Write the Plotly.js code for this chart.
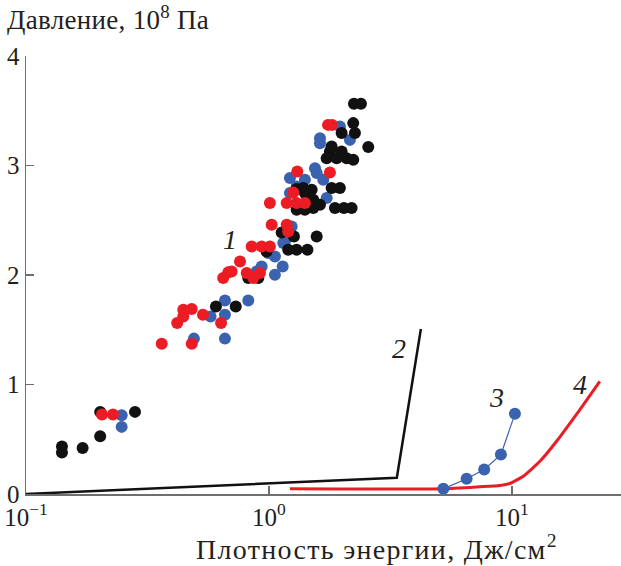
<!DOCTYPE html>
<html>
<head>
<meta charset="utf-8">
<script src="https://cdn.plot.ly/plotly-3.0.1.min.js"></script>
<style>
  html, body { margin: 0; padding: 0; background: #fff; }
  #chart { width: 621px; height: 566px; }
</style>
</head>
<body>
<div id="chart"></div>
<script>
// Experimental points, series 1 (energy density J/cm^2, pressure 10^8 Pa)
const blackX = [0.1406, 0.1406, 0.171, 0.202, 0.202, 0.281,
  0.605, 0.730, 0.822, 0.904, 0.978, 1.20, 1.30, 1.44,
  1.128, 1.267, 1.572, 1.300, 1.406, 1.300, 1.406, 1.342, 1.522, 1.622, 1.522,
  1.384, 1.499, 1.811, 1.959, 1.869, 2.035, 2.189,
  1.811, 1.782, 1.991, 1.728, 1.899, 2.088, 2.223, 2.563,
  1.991, 2.259, 2.223, 2.238, 2.391];
const blackY = [0.433, 0.379, 0.42, 0.527, 0.75, 0.75,
  1.713, 1.713, 1.973, 1.973, 2.215, 2.231, 2.231, 2.231,
  2.389, 2.352, 2.352, 2.596, 2.596, 2.785, 2.748, 2.611, 2.687, 2.641, 2.611,
  2.794, 2.778, 2.794, 2.794, 2.611, 2.611, 2.611,
  3.174, 3.128, 3.128, 3.067, 3.067, 3.067, 3.052, 3.168,
  3.296, 3.296, 3.387, 3.563, 3.563];

const redX = [0.2055, 0.228,
  0.362, 0.481, 0.419, 0.444, 0.481, 0.444, 0.535, 0.635,
  0.648, 0.680, 0.702, 0.760, 0.810, 0.862, 0.918,
  0.849, 0.933, 1.009, 1.026, 1.183, 1.200,
  1.009, 1.183, 1.300, 1.406, 1.259, 1.308, 1.782, 1.75, 1.82];
const redY = [0.725, 0.725,
  1.373, 1.373, 1.562, 1.683, 1.690, 1.622, 1.638, 1.562,
  1.973, 2.024, 2.033, 2.124, 2.018, 1.973, 2.018,
  2.261, 2.261, 2.261, 2.459, 2.459, 2.398,
  2.657, 2.657, 2.657, 2.657, 2.754, 2.945, 2.936, 3.371, 3.371];

const blueX = [0.2476, 0.2476,
  0.491, 0.659, 0.575, 0.659, 0.659, 0.822,
  0.890, 0.933, 1.058, 1.139, 0.993, 1.058, 1.145, 1.240, 1.164,
  1.220, 1.728, 1.547, 1.572, 1.220, 1.406, 1.673, 1.300,
  1.622, 1.622, 2.154, 1.959];
const blueY = [0.719, 0.613,
  1.419, 1.419, 1.622, 1.768, 1.638, 1.768,
  2.033, 2.078, 2.003, 2.078, 2.201, 2.170, 2.292, 2.443, 2.307,
  2.748, 2.703, 2.976, 2.931, 2.885, 2.870, 2.870, 2.808,
  3.250, 3.204, 3.234, 3.356];

// Curve 2
const curve2X = [0.1, 3.36, 4.22];
const curve2Y = [0.0, 0.148, 1.507];

// Curve 3
const curve3X = [5.22, 6.51, 7.69, 9.01, 10.29];
const curve3Y = [0.047, 0.139, 0.224, 0.360, 0.732];

// Curve 4
const curve4X = [1.22, 5.21, 7.385, 8.93, 9.81, 11.13, 13.04, 15.27, 19.05, 23.0];
const curve4Y = [0.047, 0.047, 0.066, 0.078, 0.096, 0.162, 0.299, 0.482, 0.771, 1.029];

// Curve numbers
const curveLabels = ['1', '2', '3', '4'];
const labelX = [0.691, 3.43, 8.68, 19.05];
const labelY = [2.322, 1.328, 0.88, 1.0];

const xTickVals = [0.1, 1, 10];
const xTickText = ['10<sup>\u22121</sup>', '10<sup>0</sup>', '10<sup>1</sup>'];
const yTickVals = [0, 1, 2, 3, 4];

const SERIF = 'Liberation Serif, Times New Roman, DejaVu Serif, serif';
const TEXT = '#231f20';
const AXIS = '#6d6e70';

const dots = (x, y, color) => ({
  x, y, type: 'scatter', mode: 'markers', cliponaxis: false,
  marker: { size: 12, color, line: { width: 0 } },
  hoverinfo: 'x+y'
});

const traces = [
  dots(blueX, blueY, '#3b62ae'),
  dots(blackX, blackY, '#111111'),
  dots(redX, redY, '#ec1c24'),
  { x: curve2X, y: curve2Y, type: 'scatter', mode: 'lines', cliponaxis: false,
    line: { color: '#111111', width: 2.5 } },
  { x: curve4X, y: curve4Y, type: 'scatter', mode: 'lines', cliponaxis: false,
    line: { color: '#ec1c24', width: 3, shape: 'spline', smoothing: 0.5 } },
  { x: curve3X, y: curve3Y, type: 'scatter', mode: 'lines+markers', cliponaxis: false,
    line: { color: '#3b62ae', width: 1.2 },
    marker: { size: 12, color: '#3b62ae', line: { width: 0 } } }
];

const annotations = curveLabels.map((t, i) => ({
  text: '<i>' + t + '</i>', x: Math.log10(labelX[i]), y: labelY[i],
  xref: 'x', yref: 'y', showarrow: false,
  font: { family: SERIF, size: 28, color: TEXT },
  xanchor: 'center', yanchor: 'middle'
}));

annotations.push({
  text: '<span style="letter-spacing:0.3px">Давление, 10<sup>8</sup> Па</span>',
  xref: 'paper', yref: 'paper',
  x: -0.036, y: 1.087, xanchor: 'left', yanchor: 'middle', showarrow: false,
  font: { family: SERIF, size: 27, color: TEXT }
});
annotations.push({
  text: '<span style="letter-spacing:1.3px">Плотность энергии, Дж/см<sup>2</sup></span>',
  xref: 'paper', yref: 'paper',
  x: 0.59, y: -0.122, xanchor: 'center', yanchor: 'middle', showarrow: false,
  font: { family: SERIF, size: 28, color: TEXT }
});

const layout = {
  width: 621, height: 566,
  margin: { l: 26, r: 0, t: 56, b: 72, pad: 0 },
  paper_bgcolor: '#fff', plot_bgcolor: '#fff',
  showlegend: false,
  font: { family: SERIF, size: 25, color: TEXT },
  xaxis: {
    type: 'log', range: [-1, 1.449], showgrid: false, zeroline: false,
    showline: true, linecolor: AXIS, linewidth: 1.5,
    ticks: 'inside', ticklen: 8, tickwidth: 1.5, tickcolor: AXIS,
    tickvals: xTickVals, ticktext: xTickText,
    tickfont: { family: SERIF, size: 25, color: TEXT }
  },
  yaxis: {
    range: [0, 4], showgrid: false, zeroline: false,
    showline: true, linecolor: AXIS, linewidth: 1.5,
    ticks: 'inside', ticklen: 8, tickwidth: 1.5, tickcolor: AXIS,
    tickvals: yTickVals,
    tickfont: { family: SERIF, size: 25, color: TEXT }
  },
  annotations
};

Plotly.newPlot('chart', traces, layout, { staticPlot: true });
</script>
</body>
</html>
